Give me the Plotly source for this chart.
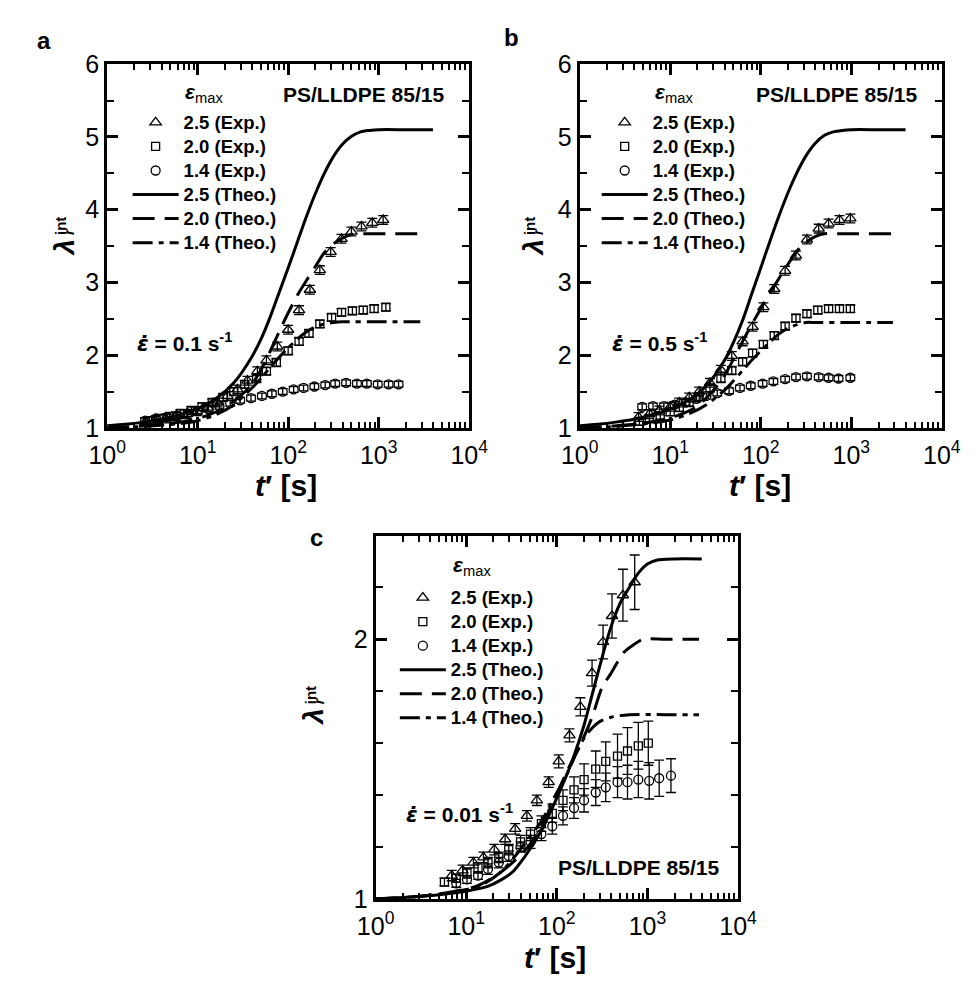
import plotly.graph_objects as go

W, H = 980, 990
FONT = "Liberation Sans, Arial, Helvetica, sans-serif"

# ---------------- Panel a : strain rate 0.1 s^-1 ----------------
a_t_exp25 = [2.63, 3.39, 4.47, 5.75, 7.59, 9.77, 12.9, 16.6, 21.4, 27.5, 35.5, 45.7, 57.5, 75.9, 100, 132, 174, 224, 295, 389, 501, 646, 851, 1122]
a_lam_exp25 = [1.08, 1.10, 1.13, 1.16, 1.19, 1.23, 1.28, 1.35, 1.44, 1.53, 1.65, 1.78, 1.93, 2.12, 2.35, 2.62, 2.90, 3.17, 3.42, 3.60, 3.70, 3.77, 3.82, 3.86]
a_t_exp20 = [2.82, 3.72, 4.90, 6.46, 8.51, 11.2, 14.5, 19.1, 25.1, 33.1, 44.7, 57.5, 74.1, 100, 132, 170, 224, 302, 389, 513, 676, 891, 1202]
a_lam_exp20 = [1.10, 1.13, 1.16, 1.20, 1.24, 1.29, 1.35, 1.42, 1.50, 1.60, 1.68, 1.78, 1.90, 2.06, 2.19, 2.30, 2.43, 2.52, 2.59, 2.61, 2.62, 2.64, 2.66]
a_t_exp14 = [2.63, 3.47, 4.57, 5.89, 7.76, 10.0, 13.2, 17.4, 22.9, 29.5, 38.9, 51.3, 66.1, 87.1, 115, 148, 195, 257, 331, 437, 575, 741, 977, 1288, 1660]
a_lam_exp14 = [1.10, 1.13, 1.15, 1.17, 1.20, 1.23, 1.26, 1.30, 1.34, 1.38, 1.41, 1.44, 1.47, 1.50, 1.53, 1.55, 1.57, 1.59, 1.61, 1.62, 1.61, 1.61, 1.60, 1.60, 1.60]
a_err_exp25 = 0.06
a_err_exp20 = 0.05
a_err_exp14 = 0.04

a_t_theo25 = [1, 1.585, 2.512, 3.981, 6.31, 10, 15.85, 25.12, 39.81, 50.12, 63.1, 79.43, 100, 125.9, 158.5, 199.5, 251.2, 316.2, 398.1, 501.2, 631, 794.3, 1000, 1995, 3981]
a_lam_theo25 = [1.03, 1.05, 1.08, 1.12, 1.18, 1.27, 1.40, 1.62, 1.98, 2.22, 2.52, 2.86, 3.20, 3.55, 3.90, 4.22, 4.50, 4.73, 4.90, 5.01, 5.07, 5.09, 5.10, 5.10, 5.10]
a_t_theo20 = [1, 2.0, 3.98, 7.94, 12.6, 20.0, 31.6, 39.8, 50.1, 63.1, 79.4, 100, 126, 158, 200, 251, 316, 398, 501, 631, 1000, 2884]
a_lam_theo20 = [1.0, 1.02, 1.05, 1.10, 1.17, 1.28, 1.47, 1.60, 1.80, 2.05, 2.32, 2.58, 2.82, 3.02, 3.22, 3.41, 3.53, 3.61, 3.66, 3.67, 3.67, 3.67]
a_t_theo14 = [1, 2.51, 6.31, 10, 15.8, 25.1, 39.8, 50.1, 63.1, 79.4, 100, 126, 158, 200, 251, 316, 398, 1000, 2884]
a_lam_theo14 = [1.0, 1.02, 1.06, 1.10, 1.18, 1.32, 1.55, 1.68, 1.83, 1.97, 2.10, 2.22, 2.32, 2.39, 2.43, 2.45, 2.46, 2.46, 2.46]

# ---------------- Panel b : strain rate 0.5 s^-1 ----------------
b_t_exp25 = [4.47, 5.89, 7.59, 10.0, 12.6, 16.2, 20.9, 27.5, 36.3, 47.9, 63.1, 81.3, 107, 141, 186, 245, 324, 437, 562, 741, 977]
b_lam_exp25 = [1.15, 1.19, 1.24, 1.29, 1.35, 1.42, 1.50, 1.62, 1.80, 1.99, 2.19, 2.39, 2.66, 2.91, 3.16, 3.37, 3.59, 3.74, 3.81, 3.86, 3.88]
b_t_exp20 = [4.57, 5.89, 7.76, 10.0, 12.6, 16.2, 20.9, 27.5, 36.3, 47.9, 63.1, 81.3, 107, 141, 186, 245, 324, 427, 562, 741, 977]
b_lam_exp20 = [1.09, 1.13, 1.17, 1.22, 1.28, 1.35, 1.43, 1.55, 1.68, 1.79, 1.91, 2.03, 2.15, 2.27, 2.40, 2.51, 2.57, 2.62, 2.64, 2.64, 2.64]
b_t_exp14 = [4.90, 6.46, 8.51, 11.2, 14.8, 19.5, 25.1, 33.1, 44.7, 58.9, 77.6, 105, 138, 186, 245, 324, 437, 562, 724, 977]
b_lam_exp14 = [1.29, 1.30, 1.30, 1.32, 1.35, 1.40, 1.44, 1.48, 1.51, 1.55, 1.58, 1.61, 1.64, 1.67, 1.70, 1.71, 1.70, 1.69, 1.68, 1.69]
b_err_exp25 = 0.06
b_err_exp20 = 0.05
b_err_exp14 = 0.04

b_t_theo25 = [1, 1.585, 2.512, 3.981, 6.31, 10, 15.85, 25.12, 39.81, 50.12, 63.1, 79.43, 100, 125.9, 158.5, 199.5, 251.2, 316.2, 398.1, 501.2, 631, 794.3, 1000, 1995, 3981]
b_lam_theo25 = [1.03, 1.05, 1.08, 1.12, 1.18, 1.26, 1.38, 1.58, 1.93, 2.18, 2.48, 2.84, 3.20, 3.56, 3.91, 4.23, 4.51, 4.74, 4.91, 5.02, 5.07, 5.09, 5.10, 5.10, 5.10]
b_t_theo20 = [1, 2.0, 3.98, 7.94, 12.6, 20.0, 31.6, 39.8, 50.1, 63.1, 79.4, 100, 126, 158, 200, 251, 316, 398, 501, 631, 1000, 2884]
b_lam_theo20 = [1.0, 1.02, 1.05, 1.11, 1.18, 1.30, 1.55, 1.72, 1.95, 2.19, 2.42, 2.64, 2.85, 3.05, 3.25, 3.43, 3.55, 3.63, 3.67, 3.67, 3.67, 3.67]
b_t_theo14 = [1, 2.51, 6.31, 10, 15.8, 25.1, 39.8, 50.1, 63.1, 79.4, 100, 126, 158, 200, 251, 316, 398, 1000, 2884]
b_lam_theo14 = [1.0, 1.02, 1.07, 1.11, 1.19, 1.32, 1.52, 1.65, 1.79, 1.93, 2.06, 2.18, 2.29, 2.37, 2.42, 2.45, 2.45, 2.45, 2.45]

# ---------------- Panel c : strain rate 0.01 s^-1 ----------------
c_t_exp25 = [6.92, 9.12, 12.0, 15.5, 20.4, 26.9, 34.7, 46.8, 60.3, 81.3, 105, 138, 182, 245, 324, 407, 537, 724]
c_lam_exp25 = [1.09, 1.11, 1.14, 1.16, 1.19, 1.23, 1.27, 1.32, 1.38, 1.45, 1.53, 1.63, 1.74, 1.87, 1.99, 2.09, 2.17, 2.22]
c_err_exp25 = [0.02, 0.02, 0.02, 0.02, 0.02, 0.02, 0.02, 0.02, 0.02, 0.02, 0.025, 0.025, 0.035, 0.05, 0.065, 0.085, 0.10, 0.105]
c_t_exp20 = [5.75, 7.76, 10.2, 13.5, 17.4, 22.9, 29.5, 39.8, 51.3, 67.6, 89.1, 117, 155, 200, 269, 347, 468, 603, 794, 1023]
c_lam_exp20 = [1.065, 1.08, 1.10, 1.12, 1.14, 1.16, 1.19, 1.22, 1.25, 1.29, 1.33, 1.38, 1.42, 1.46, 1.50, 1.53, 1.55, 1.57, 1.59, 1.60]
c_err_exp20 = [0.015, 0.015, 0.02, 0.02, 0.02, 0.02, 0.02, 0.025, 0.025, 0.03, 0.035, 0.04, 0.05, 0.06, 0.07, 0.075, 0.085, 0.09, 0.09, 0.085]
c_t_exp14 = [7.76, 10.2, 13.5, 17.4, 22.9, 29.5, 39.8, 51.3, 67.6, 89.1, 117, 155, 200, 269, 347, 468, 603, 794, 1047, 1349, 1820]
c_lam_exp14 = [1.06, 1.075, 1.09, 1.115, 1.14, 1.165, 1.20, 1.22, 1.25, 1.28, 1.32, 1.35, 1.38, 1.41, 1.43, 1.45, 1.45, 1.46, 1.455, 1.465, 1.475]
c_err_exp14 = [0.015, 0.015, 0.015, 0.02, 0.02, 0.02, 0.02, 0.025, 0.025, 0.03, 0.035, 0.04, 0.045, 0.05, 0.055, 0.06, 0.065, 0.07, 0.07, 0.07, 0.065]

c_t_theo25 = [1, 3.16, 10, 17.8, 31.6, 44.7, 63.1, 89.1, 126, 158, 200, 251, 316, 398, 501, 631, 794, 1000, 1259, 1995, 3981]
c_lam_theo25 = [1.0, 1.01, 1.03, 1.05, 1.10, 1.165, 1.245, 1.35, 1.47, 1.56, 1.67, 1.80, 1.93, 2.05, 2.14, 2.20, 2.255, 2.29, 2.305, 2.31, 2.31]
c_t_theo20 = [1, 3.16, 7.59, 13.2, 21.4, 32.4, 47.9, 67.6, 93.3, 129, 191, 245, 316, 398, 550, 708, 891, 1585, 3715]
c_lam_theo20 = [1.0, 1.01, 1.03, 1.05, 1.09, 1.14, 1.20, 1.28, 1.38, 1.49, 1.61, 1.70, 1.815, 1.87, 1.95, 1.98, 2.0, 2.0, 2.0]
c_t_theo14 = [1, 3.16, 7.94, 14.1, 23.4, 34.7, 47.9, 67.6, 93.3, 129, 166, 209, 288, 398, 631, 1585, 3715]
c_lam_theo14 = [1.0, 1.01, 1.03, 1.05, 1.10, 1.165, 1.23, 1.30, 1.39, 1.48, 1.565, 1.63, 1.68, 1.70, 1.71, 1.71, 1.71]

# ---------------- tick labels / legend names ----------------
x_tickvals = [1, 10, 100, 1000, 10000]
x_ticktext = ["10<sup>0</sup>", "10<sup>1</sup>", "10<sup>2</sup>", "10<sup>3</sup>", "10<sup>4</sup>"]
x_minor = [m * 10 ** k for k in range(4) for m in range(2, 10)]
exp_labels = ["2.5 (Exp.)", "2.0 (Exp.)", "1.4 (Exp.)"]
theo_labels = ["2.5 (Theo.)", "2.0 (Theo.)", "1.4 (Theo.)"]
symbols = ["triangle-up-open", "square-open", "circle-open"]
sym_sizes = [10, 8, 9]
dashes = ["solid", "22px,10px", "20px,6px,5px,6px"]


def fx(px):
    return px / W


def fy(py):
    return 1 - py / H


def leg_name(s):
    return "<span style='font-size:18.5px'><b>%s</b></span>" % s


fig = go.Figure()


def err_dict(e):
    if isinstance(e, list):
        return dict(type="data", array=e, visible=True, color="black", thickness=1.3, width=5)
    return dict(type="constant", value=e, visible=True, color="black", thickness=1.3, width=5)


def add_panel(sfx, leg, exps, theos):
    xa, ya = "x" + sfx, "y" + sfx
    for (t, lam, e), name, sym, sz in zip(exps, exp_labels, symbols, sym_sizes):
        fig.add_trace(go.Scatter(
            x=t, y=lam, mode="markers", name=leg_name(name), legend=leg, xaxis=xa, yaxis=ya,
            marker=dict(symbol=sym, size=sz, color="black", line=dict(width=1.3, color="black")),
            error_y=err_dict(e)))
    for (t, lam), name, dash in zip(theos, theo_labels, dashes):
        fig.add_trace(go.Scatter(
            x=t, y=lam, mode="lines", name=leg_name(name), legend=leg, xaxis=xa, yaxis=ya,
            line=dict(color="black", width=3, dash=dash, shape="spline", smoothing=0.8)))


add_panel("", "legend",
          [(a_t_exp25, a_lam_exp25, a_err_exp25), (a_t_exp20, a_lam_exp20, a_err_exp20), (a_t_exp14, a_lam_exp14, a_err_exp14)],
          [(a_t_theo25, a_lam_theo25), (a_t_theo20, a_lam_theo20), (a_t_theo14, a_lam_theo14)])
add_panel("2", "legend2",
          [(b_t_exp25, b_lam_exp25, b_err_exp25), (b_t_exp20, b_lam_exp20, b_err_exp20), (b_t_exp14, b_lam_exp14, b_err_exp14)],
          [(b_t_theo25, b_lam_theo25), (b_t_theo20, b_lam_theo20), (b_t_theo14, b_lam_theo14)])
add_panel("3", "legend3",
          [(c_t_exp25, c_lam_exp25, c_err_exp25), (c_t_exp20, c_lam_exp20, c_err_exp20), (c_t_exp14, c_lam_exp14, c_err_exp14)],
          [(c_t_theo25, c_lam_theo25), (c_t_theo20, c_lam_theo20), (c_t_theo14, c_lam_theo14)])


def axis_style():
    return dict(showline=True, linecolor="black", linewidth=3, mirror="allticks",
                ticks="inside", ticklen=11, tickwidth=2.5, tickcolor="black",
                showgrid=False, zeroline=False, layer="above traces",
                tickfont=dict(family=FONT, size=25, color="black"))


def xax(x0, x1, anchor):
    return dict(domain=[fx(x0), fx(x1)], anchor=anchor, type="log", range=[0, 4],
                tickmode="array", tickvals=x_tickvals, ticktext=x_ticktext, ticklabelstandoff=3,
                minor=dict(tickmode="array", tickvals=x_minor, ticks="inside", ticklen=6,
                           tickwidth=2, tickcolor="black", showgrid=False),
                **axis_style())


def yax(top, bottom, anchor, rng, minor_dt):
    return dict(domain=[fy(bottom), fy(top)], anchor=anchor, range=rng,
                tickmode="linear", tick0=1, dtick=1,
                minor=dict(tick0=1, dtick=minor_dt, ticks="inside", ticklen=7,
                           tickwidth=2, tickcolor="black", showgrid=False),
                **axis_style())


def leg(px, py):
    return dict(x=fx(px), y=fy(py), xanchor="left", yanchor="top",
                bgcolor="rgba(0,0,0,0)", borderwidth=0, itemwidth=46, tracegroupgap=0,
                traceorder="normal", itemclick=False, itemdoubleclick=False,
                font=dict(family=FONT, size=16.2, color="black"))


def ann(text, px, py, size, angle=0, xanchor="center", yanchor="middle", align="center"):
    return dict(text=text, x=fx(px), y=fy(py), xref="paper", yref="paper",
                showarrow=False, textangle=angle, xanchor=xanchor, yanchor=yanchor, align=align,
                font=dict(family=FONT, size=size, color="black"))


EPS_DOT = "<span style='font-family:DejaVu Sans'>ε̇</span>"
annotations = []
panels = [
    # label, label pos, eps_max pos, PS pos, rate, rate-text left/middle, x-title, lambda centre
    ("a", (26, 27), (192, 81), (358, 83), "0.1", (121, 338), (278, 485), (47, 240)),
    ("b", (512, 24), (681, 81), (850, 83), "0.5", (615, 338), (771, 485), (535, 240)),
    ("c", (309, 539), (471, 568), (644, 878), "0.01", (401, 823), (558, 971), (306, 723)),
]
for lab, lp, ep, pp, rate, rp, xp, yp in panels:
    annotations.append(ann("<b>%s</b>" % lab, lp[0], lp[1], 24))
    annotations.append(ann("<b><i>ε</i></b><sub>max</sub>", ep[0], ep[1], 21))
    annotations.append(ann("<b>PS/LLDPE 85/15</b>", pp[0], pp[1], 21))
    annotations.append(ann("<b><i>%s</i> = %s s<sup>-1</sup></b>" % (EPS_DOT, rate), rp[0], rp[1], 21, xanchor="left"))
    annotations.append(ann("<b><i>t</i>′ [s]</b>", xp[0], xp[1], 30))
    annotations.append(ann("<b><i>λ</i></b>", yp[0], yp[1], 28, angle=-90))
    annotations.append(ann("<span style='font-size:15px'><b>int</b></span><br>"
                           "<span style='font-size:15px'><b><i>r</i></b></span>",
                           yp[0] + 1, yp[1] - 22, 6, angle=-90, align="left"))

fig.update_layout(
    width=W, height=H, margin=dict(l=0, r=0, t=0, b=0),
    paper_bgcolor="white", plot_bgcolor="white", showlegend=True,
    xaxis=xax(91.7, 468.3, "y"), yaxis=yax(51.7, 426, "x", [1, 6], 0.5),
    xaxis2=xax(583.3, 960, "y2"), yaxis2=yax(51.7, 426, "x2", [1, 6], 0.5),
    xaxis3=xax(371, 748, "y3"), yaxis3=yax(536.7, 910.7, "x3", [1, 2.4], 0.2),
    legend=leg(113, 94), legend2=leg(601, 94), legend3=leg(391, 583),
    annotations=annotations,
)

fig.write_html("out.html")
